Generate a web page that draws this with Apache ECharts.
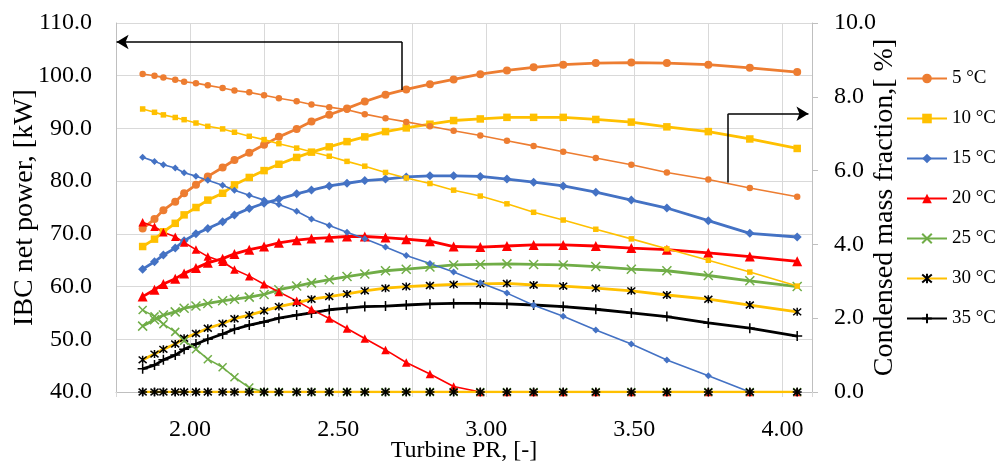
<!DOCTYPE html>
<html>
<head>
<meta charset="utf-8">
<script src="https://cdn.jsdelivr.net/npm/echarts@6/dist/echarts.min.js"></script>
<style>
html, body { margin: 0; padding: 0; background: #fff; }
#chart { width: 1000px; height: 463px; }
</style>
</head>
<body>
<div id="chart"></div>
<script>
// turbine pressure ratio (shared x values)
var prValues = [1.84, 1.88, 1.91, 1.95, 1.98, 2.02, 2.06, 2.11, 2.15, 2.20, 2.25, 2.30, 2.36, 2.41, 2.47,
    2.53, 2.59, 2.66, 2.73, 2.81, 2.89, 2.98, 3.07, 3.16, 3.26, 3.37, 3.49, 3.61, 3.75, 3.89, 4.05];

var tempNames = ['5 °C', '10 °C', '15 °C', '20 °C', '25 °C', '30 °C', '35 °C'];

// IBC net power, kW (left axis)
var power5 = [71.0, 72.8, 74.5, 76.1, 77.7, 79.3, 80.9, 82.6, 84.0, 85.4, 86.9, 88.4, 89.9, 91.3, 92.6,
    93.8, 95.1, 96.4, 97.4, 98.4, 99.3, 100.3, 101.0, 101.6, 102.1, 102.4, 102.5, 102.4, 102.1, 101.5, 100.7];
var power10 = [67.6, 69.0, 70.4, 72.0, 73.6, 75.0, 76.4, 77.7, 79.3, 80.7, 82.0, 83.2, 84.5, 85.5, 86.5,
    87.5, 88.4, 89.4, 90.1, 90.8, 91.5, 91.8, 92.1, 92.1, 92.1, 91.7, 91.2, 90.3, 89.4, 88.0, 86.2];
var power15 = [63.3, 64.7, 66.0, 67.3, 68.7, 70.0, 71.0, 72.3, 73.6, 74.8, 75.8, 76.6, 77.6, 78.3, 79.1,
    79.6, 80.1, 80.4, 80.8, 81.0, 81.0, 80.9, 80.4, 79.8, 79.1, 77.9, 76.4, 74.9, 72.5, 70.1, 69.4];
var power20 = [58.1, 59.4, 60.5, 61.5, 62.5, 63.5, 64.5, 65.3, 66.2, 67.0, 67.6, 68.3, 68.8, 69.1, 69.3,
    69.5, 69.5, 69.3, 69.0, 68.6, 67.6, 67.5, 67.7, 67.9, 67.9, 67.7, 67.3, 67.0, 66.4, 65.7, 64.8];
var power25 = [52.5, 53.7, 54.6, 55.2, 55.9, 56.3, 56.8, 57.3, 57.6, 58.0, 58.5, 59.4, 60.1, 60.7, 61.3,
    61.9, 62.4, 63.0, 63.3, 63.7, 64.1, 64.2, 64.3, 64.2, 64.1, 63.8, 63.3, 63.0, 62.1, 61.1, 60.0];
var power30 = [46.1, 47.2, 48.1, 49.1, 50.2, 51.1, 52.1, 53.0, 53.9, 54.6, 55.4, 56.2, 56.9, 57.6, 58.1,
    58.6, 59.2, 59.7, 60.0, 60.2, 60.4, 60.5, 60.6, 60.3, 60.1, 59.7, 59.2, 58.4, 57.6, 56.5, 55.2];
var power35 = [44.4, 45.1, 46.1, 47.0, 48.1, 49.1, 50.0, 51.0, 51.9, 52.7, 53.3, 54.0, 54.6, 55.0, 55.6,
    55.9, 56.2, 56.3, 56.5, 56.7, 56.8, 56.8, 56.7, 56.5, 56.2, 55.7, 55.0, 54.3, 53.1, 52.1, 50.6];

// condensed mass fraction, % (right axis)
var mf5 = [8.62, 8.57, 8.52, 8.46, 8.41, 8.37, 8.31, 8.24, 8.17, 8.12, 8.04, 7.96, 7.88, 7.79, 7.72,
    7.65, 7.53, 7.42, 7.32, 7.20, 7.08, 6.95, 6.81, 6.67, 6.51, 6.34, 6.16, 5.95, 5.76, 5.53, 5.29];
var mf10 = [7.67, 7.58, 7.51, 7.44, 7.38, 7.29, 7.20, 7.13, 7.04, 6.93, 6.84, 6.73, 6.61, 6.51, 6.39,
    6.25, 6.12, 5.95, 5.80, 5.65, 5.47, 5.31, 5.10, 4.87, 4.66, 4.41, 4.15, 3.88, 3.57, 3.25, 2.87];
var mf15 = [6.36, 6.25, 6.16, 6.07, 5.94, 5.85, 5.74, 5.60, 5.47, 5.33, 5.20, 5.08, 4.90, 4.69, 4.51,
    4.33, 4.15, 3.93, 3.70, 3.48, 3.25, 2.96, 2.68, 2.35, 2.05, 1.68, 1.30, 0.87, 0.44, 0, 0];
var mf20 = [4.60, 4.48, 4.33, 4.21, 4.05, 3.86, 3.67, 3.53, 3.32, 3.14, 2.92, 2.71, 2.47, 2.24, 1.99,
    1.72, 1.45, 1.14, 0.80, 0.49, 0.15, 0, 0, 0, 0, 0, 0, 0, 0, 0, 0];
var mf25 = [2.22, 2.05, 1.84, 1.63, 1.39, 1.16, 0.89, 0.67, 0.40, 0.12, 0, 0, 0, 0, 0,
    0, 0, 0, 0, 0, 0, 0, 0, 0, 0, 0, 0, 0, 0, 0, 0];
var mf30 = [0, 0, 0, 0, 0, 0, 0, 0, 0, 0, 0, 0, 0, 0, 0,
    0, 0, 0, 0, 0, 0, 0, 0, 0, 0, 0, 0, 0, 0, 0, 0];
var mf35 = [0, 0, 0, 0, 0, 0, 0, 0, 0, 0, 0, 0, 0, 0, 0,
    0, 0, 0, 0, 0, 0, 0, 0, 0, 0, 0, 0, 0, 0, 0, 0];

// annotation arrows [PR, axis value]
var leftArrow = [[2.716, 97.3], [2.716, 106.4], [1.752, 106.4]];
var rightArrow = [[3.817, 5.68], [3.817, 7.54], [4.088, 7.54]];

var powerData = [power5, power10, power15, power20, power25, power30, power35];
var mfData = [mf5, mf10, mf15, mf20, mf25, mf30, mf35];

var lineColors = ['#ED7D31', '#FFC000', '#4472C4', '#FF0000', '#70AD47', '#FFC000', '#000000'];
var markColors = ['#ED7D31', '#FFC000', '#4472C4', '#FF0000', '#70AD47', '#000000', '#000000'];
var symbols = ['circle', 'rect', 'diamond', 'triangle',
    'path://M0,0L10,10M10,0L0,10',
    'path://M0,0L10,10M10,0L0,10M5,-1L5,11',
    'path://M5,0L5,10M0,5L10,5'];
var strokeMark = [false, false, false, false, true, true, true];
var powerSize = [8, 7.5, 9, 10, 9, 8, 10];
var mfSize = [6.5, 5.5, 7, 8.5, 8, 8, 9];

var font = 'Liberation Serif';

function pairs(ys) {
    var out = [];
    for (var i = 0; i < prValues.length; i++) {
        out.push([prValues[i], ys[i]]);
    }
    return out;
}

function makeSeries(k, ys, axis, thick) {
    var item = strokeMark[k]
        ? { color: 'rgba(0,0,0,0)', borderColor: markColors[k], borderWidth: 1.5 }
        : { color: markColors[k] };
    return {
        name: tempNames[k],
        type: 'line',
        yAxisIndex: axis,
        data: pairs(ys),
        symbol: symbols[k],
        symbolSize: thick ? powerSize[k] : mfSize[k],
        showAllSymbol: true,
        lineStyle: { color: lineColors[k], width: thick ? 2.8 : 1.6 },
        itemStyle: item,
        emphasis: { disabled: true }
    };
}

var series = [];
for (var k = 0; k < 7; k++) {
    series.push(makeSeries(k, powerData[k], 0, true));
}
var mfOrder = [0, 1, 2, 3, 4, 6, 5];
for (var j = 0; j < mfOrder.length; j++) {
    var s = makeSeries(mfOrder[j], mfData[mfOrder[j]], 1, false);
    if (mfOrder[j] === 5) s.lineStyle.width = 2.6;
    series.push(s);
}

function arrowMark(pts) {
    return {
        silent: true,
        symbolSize: 12,
        label: { show: false },
        lineStyle: { color: '#000', width: 1.5, type: 'solid' },
        itemStyle: { color: '#000' },
        data: [
            [{ coord: pts[0], symbol: 'none' }, { coord: pts[1], symbol: 'none' }],
            [{ coord: pts[1], symbol: 'none' }, { coord: pts[2], symbol: 'arrow', symbolSize: [11, 12] }]
        ]
    };
}
series[0].markLine = arrowMark(leftArrow);
series[7].markLine = arrowMark(rightArrow);

var chart = echarts.init(document.getElementById('chart'));
var option = {
    animation: false,
    backgroundColor: '#fff',
    textStyle: { fontFamily: font },
    grid: { left: 116, right: 188, top: 23, bottom: 71, outerBoundsMode: 'none', containLabel: false },
    legend: {
        orient: 'vertical',
        left: 901,
        top: 64,
        itemWidth: 40,
        itemHeight: 12,
        itemGap: 21,
        data: tempNames,
        textStyle: { fontFamily: font, fontSize: 19, color: '#000' }
    },
    xAxis: {
        type: 'value',
        min: 1.75,
        max: 4.1,
        interval: 0.25,
        name: 'Turbine PR, [-]',
        nameLocation: 'middle',
        nameGap: 47,
        nameMoveOverlap: false,
        nameTextStyle: { fontFamily: font, fontSize: 24, color: '#000' },
        axisLine: { show: true, onZero: false, lineStyle: { color: '#bfbfbf' } },
        axisTick: { show: true, length: 5, lineStyle: { color: '#d9d9d9' } },
        splitLine: { show: true, lineStyle: { color: '#d9d9d9' } },
        axisLabel: {
            margin: 26,
            fontFamily: font,
            fontSize: 24,
            color: '#000',
            formatter: function (v) {
                return Math.abs(v * 2 - Math.round(v * 2)) < 1e-6 ? v.toFixed(2) : '';
            }
        }
    },
    yAxis: [{
        type: 'value',
        position: 'left',
        min: 40,
        max: 110,
        interval: 10,
        name: 'IBC net power, [kW]',
        nameLocation: 'middle',
        nameRotate: 90,
        nameGap: 77,
        nameMoveOverlap: false,
        nameTextStyle: { fontFamily: font, fontSize: 28, color: '#000' },
        axisLine: { show: true, lineStyle: { color: '#bfbfbf' } },
        axisTick: { show: false },
        splitLine: { show: true, lineStyle: { color: '#d9d9d9' } },
        axisLabel: {
            margin: 24,
            fontFamily: font,
            fontSize: 24,
            color: '#000',
            formatter: function (v) { return v.toFixed(1); }
        }
    }, {
        type: 'value',
        position: 'right',
        min: 0,
        max: 10,
        interval: 2,
        name: 'Condensed mass fraction,[ %]',
        nameLocation: 'middle',
        nameRotate: 90,
        nameGap: 59,
        nameMoveOverlap: false,
        nameTextStyle: { fontFamily: font, fontSize: 28, color: '#000' },
        axisLine: { show: true, lineStyle: { color: '#bfbfbf' } },
        axisTick: { show: true, length: 6, lineStyle: { color: '#bfbfbf' } },
        splitLine: { show: false },
        axisLabel: {
            margin: 22,
            fontFamily: font,
            fontSize: 24,
            color: '#000',
            formatter: function (v) { return v.toFixed(1); }
        }
    }],
    series: series
};
chart.setOption(option);
</script>
</body>
</html>
